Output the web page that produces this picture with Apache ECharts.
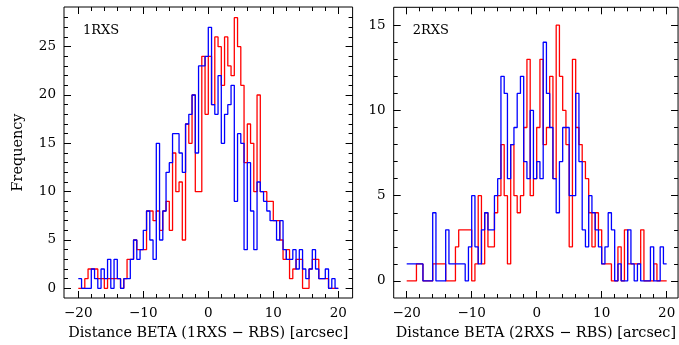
<!DOCTYPE html>
<html><head><meta charset="utf-8">
<script src="https://cdn.jsdelivr.net/npm/echarts@6/dist/echarts.min.js"></script>
<style>html,body{margin:0;padding:0;background:#fff;}#c{width:679px;height:345px;}</style>
</head><body><div id="c"></div>
<script>
// histogram bins: 0.5 arcsec wide, from -20 to +20 arcsec (80 bins)
const binStart = -20;
const binWidth = 0.5;

// Left panel (1RXS - RBS)
const left1RXSBlue = [
  1,0,0,0,2,1,0,2,1,3,
  0,3,1,0,1,1,3,5,3,4,
  6,8,5,3,15,5,8,12,13,16,
  16,14,12,17,18,20,14,23,23,24,
  27,19,18,22,15,18,19,21,9,16,
  15,4,13,8,4,11,10,9,8,7,
  7,5,7,4,3,3,4,2,4,2,
  1,2,4,2,1,1,2,0,1,0
];
const left1RXSRed = [
  0,0,1,2,2,2,1,1,0,1,
  1,1,1,0,1,3,3,5,4,4,
  4,8,8,7,8,6,8,9,6,14,
  10,11,5,17,15,20,10,10,24,18,
  24,19,26,25,21,26,23,22,28,25,
  21,13,17,15,10,20,10,10,9,9,
  7,7,5,3,4,1,2,3,3,0,
  0,2,3,3,1,1,1,0,0,0
];

// Right panel (2RXS - RBS)
const right2RXSBlue = [
  1,1,1,1,1,0,0,0,4,0,
  0,0,3,1,1,1,1,1,0,2,
  5,2,1,3,4,3,3,5,6,12,
  11,6,8,9,11,12,7,6,10,6,
  7,6,14,11,9,6,4,7,9,9,
  5,5,11,7,3,2,5,4,3,2,
  1,2,4,3,0,1,0,0,3,1,
  0,1,0,0,0,2,0,0,2,1
];
const right2RXSRed = [
  0,0,0,1,1,0,0,0,1,1,
  1,1,0,0,0,2,3,3,3,3,
  0,1,5,1,4,2,2,4,5,8,
  5,1,8,5,4,5,9,13,5,6,
  9,13,8,9,12,6,15,12,10,8,
  2,13,9,8,7,6,4,2,4,3,
  1,1,1,0,0,2,0,3,1,1,
  1,1,3,0,0,0,1,0,0,0
];

// tick values
const xMajorTicks = [-20,-10,0,10,20];
const xMinorTicks = [-20,-18,-16,-14,-12,-10,-8,-6,-4,-2,0,2,4,6,8,10,12,14,16,18,20];
const leftYMajorTicks = [0,5,10,15,20,25];
const leftYMinorTicks = [0,1,2,3,4,5,6,7,8,9,10,11,12,13,14,15,16,17,18,19,20,21,22,23,24,25,26,27,28];
const rightYMajorTicks = [0,5,10,15];
const rightYMinorTicks = [0,1,2,3,4,5,6,7,8,9,10,11,12,13,14,15];

const panelLabels = ['1RXS','2RXS'];
const xNames = ['Distance BETA (1RXS \u2212 RBS) [arcsec]','Distance BETA (2RXS \u2212 RBS) [arcsec]'];
const yName = 'Frequency';

function steps(counts){
  const pts = counts.map((c,i)=>[binStart + i*binWidth, c]);
  pts.push([binStart + counts.length*binWidth, counts[counts.length-1]]);
  return pts;
}
const FONT = 'DejaVu Serif';
const fmt = v => (v < 0 ? '\u2212' + Math.abs(v) : String(v));

const panels = [
  {grid:{left:64, top:7, width:288.6, height:292}, x:[-22.2,22.2], y:[-1,29.1],
   yMajor:leftYMajorTicks, yMinor:leftYMinorTicks, blue:left1RXSBlue, red:left1RXSRed, yName:yName},
  {grid:{left:393.7, top:7.3, width:284.4, height:291.7}, x:[-22,21.75], y:[-1,16.05],
   yMajor:rightYMajorTicks, yMinor:rightYMinorTicks, blue:right2RXSBlue, red:right2RXSRed, yName:''}
];

const grids=[], xAxes=[], yAxes=[], series=[], titles=[];
function axis(gi, range, pos, ticks, len, labels, name, gap){
  const a = {type:'value', gridIndex:gi, min:range[0], max:range[1], position:pos,
    axisLine:{show:false, onZero:false}, splitLine:{show:false},
    axisTick:{show:true, inside:true, length:len, customValues:ticks, lineStyle:{color:'#000', width:1}},
    axisLabel: labels ? {show:true, customValues:labels, formatter:fmt, margin:8,
       fontFamily:FONT, fontSize:13.5, color:'#000'} : {show:false}
  };
  if (name) {
    a.name = name; a.nameLocation = 'middle'; a.nameGap = gap;
    a.nameTextStyle = {fontFamily:FONT, fontSize:14.4, color:'#000'};
  }
  return a;
}
panels.forEach((p,gi)=>{
  grids.push(Object.assign({show:true, borderColor:'#000', borderWidth:1, backgroundColor:'transparent', containLabel:false}, p.grid));
  const xi = xAxes.length, yi = yAxes.length;
  xAxes.push(axis(gi, p.x, 'bottom', xMajorTicks, 7, xMajorTicks, xNames[gi], 28));
  xAxes.push(axis(gi, p.x, 'bottom', xMinorTicks, 4, null));
  xAxes.push(axis(gi, p.x, 'top', xMajorTicks, 7, null));
  xAxes.push(axis(gi, p.x, 'top', xMinorTicks, 4, null));
  yAxes.push(axis(gi, p.y, 'left', p.yMajor, 7, p.yMajor, p.yName, 39));
  yAxes.push(axis(gi, p.y, 'left', p.yMinor, 4, null));
  yAxes.push(axis(gi, p.y, 'right', p.yMajor, 7, null));
  yAxes.push(axis(gi, p.y, 'right', p.yMinor, 4, null));
  series.push({type:'line', step:'end', xAxisIndex:xi, yAxisIndex:yi, data:steps(p.red),
    showSymbol:false, symbol:'none', lineStyle:{color:'#ff0000', width:1.3}, itemStyle:{color:'#ff0000'}, animation:false});
  series.push({type:'line', step:'end', xAxisIndex:xi, yAxisIndex:yi, data:steps(p.blue),
    showSymbol:false, symbol:'none', lineStyle:{color:'#0000ff', width:1.3}, itemStyle:{color:'#0000ff'}, animation:false});
  titles.push({text:panelLabels[gi], left:p.grid.left+19, top:24, padding:0,
    textStyle:{fontFamily:FONT, fontSize:13, fontWeight:'normal', color:'#000'}});
});

const chart = echarts.init(document.getElementById('c'));
chart.setOption({
  animation:false, backgroundColor:'#fff',
  title:titles, grid:grids, xAxis:xAxes, yAxis:yAxes, series:series
});
</script></body></html>
